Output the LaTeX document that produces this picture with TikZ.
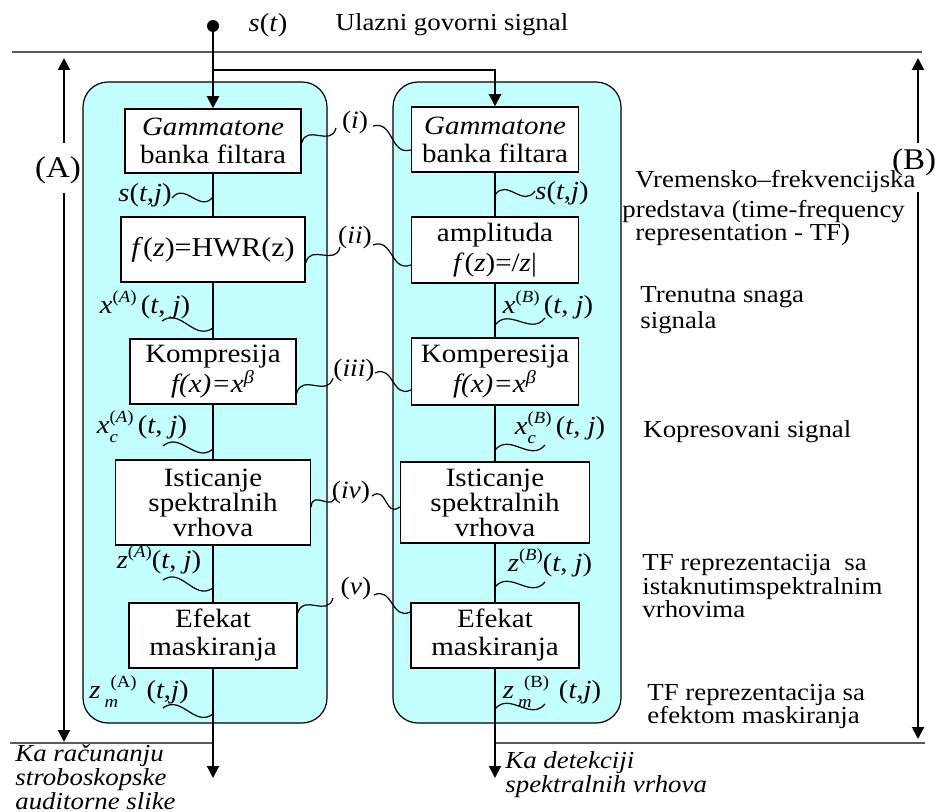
\documentclass[tikz,border=0pt]{standalone}
\usepackage{fontspec}
\setmainfont[FakeStretch=1.1]{Liberation Serif}
\usetikzlibrary{arrows.meta,calc}
\definecolor{panelcyan}{RGB}{195,255,255}
\definecolor{rulegray}{RGB}{90,90,90}
\newcommand{\wv}[2]{\draw[wave] (#1) .. controls ($(#1)!0.33!(#2)!8pt!90:(#2)$) and ($(#1)!0.67!(#2)!8pt!-90:(#2)$) .. (#2);}
\newcommand{\mysup}[1]{\raisebox{5.5pt}{\fontsize{8.5pt}{9pt}\selectfont #1}}
\newcommand{\mysub}[1]{\raisebox{-4.5pt}{\fontsize{8.5pt}{9pt}\selectfont #1}}
\tikzset{
  panel/.style={draw=black, line width=0.6pt, fill=panelcyan, rounded corners=12.5pt},
  blk/.style={draw=black, line width=0.75pt, fill=white, inner sep=0pt, align=center, font=\fontsize{13.2pt}{14pt}\selectfont},
  stemline/.style={line width=1pt},
  arr/.style={line width=1pt, -{Triangle[length=6pt,width=6pt]}},
  wave/.style={line width=0.6pt},
  sig/.style={font=\fontsize{13pt}{14pt}\selectfont, inner sep=0pt},
  rom/.style={font=\fontsize{12.5pt}{14pt}\selectfont, inner sep=0pt},
  note/.style={inner sep=0pt, align=left, anchor=west},
  grayrule/.style={draw=rulegray, line width=0.6pt},
}
\begin{document}
\begin{tikzpicture}[x=0.5pt,y=-0.5pt]
\useasboundingbox (0,0) rectangle (935,812);
% panels
\draw[panel] (83,82) rectangle (327,723);
\draw[panel] (393,82) rectangle (621,723);
% horizontal rules
\draw[grayrule] (12,52) -- (922,52);
\draw[grayrule] (10,743) -- (213,743);
\draw[grayrule] (495,743) -- (925,743);
% boxes left
\node[blk, minimum width=88pt, minimum height=32pt] (LG) at (213,141) {\textit{Gammatone}\\banka filtara};
\node[blk, minimum width=92pt, minimum height=32.5pt, font=\fontsize{13.6pt}{14pt}\selectfont] (LH) at (213,249.5) {\textit{f}(\textit{z})=HWR(z)};
\node[blk, minimum width=83pt, minimum height=32.5pt, font=\fontsize{13.2pt}{12.5pt}\selectfont] (LK) at (213,371.5) {Kompresija\\\textit{f(x)=x\textsuperscript{β}}};
\node[blk, minimum width=97.5pt, minimum height=42.5pt, font=\fontsize{13.2pt}{12.5pt}\selectfont] (LI) at (213,502.5) {Isticanje\\spektralnih\\vrhova};
\node[blk, minimum width=84pt, minimum height=32.5pt] (LE) at (213,635.5) {Efekat\\maskiranja};
% boxes right
\node[blk, minimum width=83.5pt, minimum height=32.5pt] (RG) at (495,139.5) {\textit{Gammatone}\\banka filtara};
\node[blk, minimum width=83.5pt, minimum height=33pt, font=\fontsize{13.2pt}{15pt}\selectfont] (RA) at (495,250) {amplituda\\\textit{f}(\textit{z})=/\textit{z}|};
\node[blk, minimum width=83.5pt, minimum height=33.5pt, font=\fontsize{13.2pt}{13pt}\selectfont] (RK) at (495,371.5) {Komperesija\\\textit{f(x)=x\textsuperscript{β}}};
\node[blk, minimum width=94.5pt, minimum height=40.5pt, font=\fontsize{13.2pt}{12.5pt}\selectfont] (RI) at (495,502.5) {Isticanje\\spektralnih\\vrhova};
\node[blk, minimum width=84pt, minimum height=32.5pt] (RE) at (495,635.5) {Efekat\\maskiranja};
% input
\node[circle, fill=black, inner sep=0pt, minimum size=6pt] (src) at (213,26) {};
\node[sig] (st) at (268,25) {\textit{s}(\textit{t})};
\node[inner sep=0pt, font=\fontsize{12.2pt}{13pt}\selectfont] (ulaz) at (452,25) {Ulazni govorni signal};
\coordinate (br) at (213,70);
\draw[arr] (src) -- (LG);
\draw[arr] (br) -| (RG);
% stems
\draw[stemline] (LG) -- (LH);
\draw[stemline] (LH) -- (LK);
\draw[stemline] (LK) -- (LI);
\draw[stemline] (LI) -- (LE);
\draw[stemline] (RG) -- (RA);
\draw[stemline] (RA) -- (RK);
\draw[stemline] (RK) -- (RI);
\draw[stemline] (RI) -- (RE);
\coordinate (Lout) at (213,778);
\coordinate (Rout) at (495,778);
\draw[arr] (LE) -- (Lout);
\draw[arr] (RE) -- (Rout);
% left signal labels
\node[sig] (sLa) at (145,195) {\textit{s}(\textit{t},\textit{j})};
\node[sig] (xLa) at (145,305) {\textit{x}\mysup{(\textit{A})}\,(\textit{t}, \textit{j})};
\node[sig] (xcLa) at (142,427) {\textit{x}\rlap{\mysub{\textit{c}}}\mysup{(\textit{A})}\,(\textit{t}, \textit{j})};
\node[sig] (zLa) at (159,560) {\textit{z}\mysup{(\textit{A})}(\textit{t}, \textit{j})};
\node[sig] (zmLa) at (139,692) {\textit{z}\kern2pt\rlap{\mysub{\textit{m}}}\kern3pt\mysup{(A)}\kern5pt(\textit{t,j})};
% right signal labels
\node[sig] (sRb) at (562,193) {\textit{s}(\textit{t},\textit{j})};
\node[sig] (xRb) at (548,305) {\textit{x}\mysup{(\textit{B})}\,(\textit{t}, \textit{j})};
\node[sig] (xcRb) at (560,428) {\textit{x}\rlap{\mysub{\textit{c}}}\mysup{(\textit{B})}\,(\textit{t}, \textit{j})};
\node[sig] (zRb) at (550,563) {\textit{z}\mysup{(\textit{B})}(\textit{t}, \textit{j})};
\node[sig] (zmRb) at (552,692) {\textit{z}\kern2pt\rlap{\mysub{\textit{m}}}\kern3pt\mysup{(B)}\kern5pt(\textit{t,j})};
% label waves
\coordinate (a1) at (172,198); \coordinate (b1) at (LG.south |- 0,197); \wv{a1}{b1}
\coordinate (a2) at (162,321); \coordinate (b2) at (LG.south |- 0,328); \wv{a2}{b2}
\coordinate (a3) at (163,446); \coordinate (b3) at (LG.south |- 0,449); \wv{a3}{b3}
\coordinate (a4) at (163,580); \coordinate (b4) at (LG.south |- 0,588); \wv{a4}{b4}
\coordinate (a5) at (163,708); \coordinate (b5) at (LG.south |- 0,714); \wv{a5}{b5}
\coordinate (c1) at (RG.south |- 0,195); \coordinate (d1) at (535,191); \wv{c1}{d1}
\coordinate (c2) at (RG.south |- 0,325); \coordinate (d2) at (545,318); \wv{c2}{d2}
\coordinate (c3) at (RG.south |- 0,450); \coordinate (d3) at (545,445); \wv{c3}{d3}
\coordinate (c4) at (RG.south |- 0,587); \coordinate (d4) at (545,582); \wv{c4}{d4}
\coordinate (c5) at (RG.south |- 0,709); \coordinate (d5) at (545,704); \wv{c5}{d5}
% roman labels
\node[rom] (r1) at (355,122) {(\textit{i})};
\node[rom] (r2) at (355,237) {(\textit{ii})};
\node[rom] (r3) at (354,370) {(\textit{iii})};
\node[rom] (r4) at (351,492) {(\textit{iv})};
\node[rom] (r5) at (356,588) {(\textit{v})};
\coordinate (p1) at (LG.east |- 0,143); \coordinate (q1) at (336,128); \wv{p1}{q1}
\coordinate (u1) at (373,126); \coordinate (v1) at (RG.west |- 0,150); \wv{u1}{v1}
\coordinate (p2) at (LH.east |- 0,263); \coordinate (q2) at (340,247); \wv{p2}{q2}
\coordinate (u2) at (373,245); \coordinate (v2) at (RA.west |- 0,265); \wv{u2}{v2}
\coordinate (p3) at (LK.east |- 0,393); \coordinate (q3) at (333,378); \wv{p3}{q3}
\coordinate (u3) at (375,373); \coordinate (v3) at (RK.west |- 0,390); \wv{u3}{v3}
\coordinate (p4) at (LI.east |- 0,507); \coordinate (q4) at (335,495); \wv{p4}{q4}
\coordinate (u4) at (372,496); \coordinate (v4) at (RI.west |- 0,507); \wv{u4}{v4}
\coordinate (p5) at (LE.east |- 0,613); \coordinate (q5) at (333,598); \wv{p5}{q5}
\coordinate (u5) at (374,595); \coordinate (v5) at (RE.west |- 0,612); \wv{u5}{v5}
% (A) and (B) arrows
\coordinate (At) at (64,58); \coordinate (Aa) at (64,143);
\coordinate (Ab) at (64,193); \coordinate (Ae) at (64,742);
\draw[arr] (Aa) -- (At);
\draw[arr] (Ab) -- (Ae);
\node[inner sep=0pt, font=\fontsize{15pt}{16pt}\selectfont] (labA) at (58,170) {(A)};
\coordinate (Bt) at (918,58); \coordinate (Ba) at (918,143);
\coordinate (Bb) at (918,192); \coordinate (Be) at (918,739);
\draw[arr] (Ba) -- (Bt);
\draw[arr] (Bb) -- (Be);
\node[inner sep=0pt, font=\fontsize{15pt}{16pt}\selectfont] (labB) at (914,162) {(B)};
% right notes
\node[note, font=\fontsize{12.2pt}{11.5pt}\selectfont] (n1) at (622,208) {\hspace*{6.5pt}Vremensko–frekvencijska\\[3.5pt]predstava (time-frequency\\\hspace*{6.5pt}representation - TF)};
\node[note, font=\fontsize{12.2pt}{13pt}\selectfont] (n2) at (640,310) {Trenutna snaga\\signala};
\node[note, font=\fontsize{12.2pt}{13pt}\selectfont] (n3) at (643,432) {Kopresovani signal};
\node[note, font=\fontsize{12.2pt}{11.75pt}\selectfont] (n4) at (642,586.5) {TF reprezentacija\ \ sa\\istaknutimspektralnim\\vrhovima};
\node[note, font=\fontsize{12.2pt}{11.5pt}\selectfont] (n5) at (647,706.5) {TF reprezentacija sa\\efektom maskiranja};
% bottom notes
\node[note, font=\itshape\fontsize{12.2pt}{10.8pt}\selectfont] (o1) at (15,777) {Ka računanju\\stroboskopske\\auditorne slike};
\node[note, font=\itshape\fontsize{12.2pt}{12pt}\selectfont] (o2) at (505,775) {Ka detekciji\\spektralnih vrhova};
\end{tikzpicture}
\end{document}
